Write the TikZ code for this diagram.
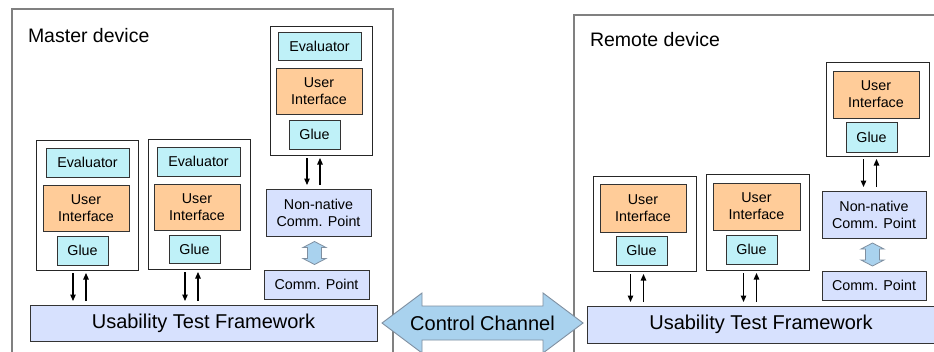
\documentclass[tikz,border=0pt]{standalone}
\usepackage{fontspec}
\setmainfont{Liberation Sans}
\usetikzlibrary{calc,arrows.meta}

\definecolor{evalcyan}{HTML}{BFF1F8}
\definecolor{uiorange}{HTML}{FFCC99}
\definecolor{commblue}{HTML}{D7E1FE}
\definecolor{chanblue}{HTML}{A9D2EE}
\definecolor{chanedge}{HTML}{7F8FA0}
\definecolor{framegray}{HTML}{808080}
\definecolor{edgedark}{HTML}{333333}

% arrows from a stack (#1) down to a target (#2) and back up
\newcommand\stacklinks[2]{%
  \draw[flow] let \p1=(#1.south), \p2=(#2.north) in (\x1-14pt,\y1-3pt) -- (\x1-14pt,\y2+4pt);
  \draw[flow] let \p1=(#1.south), \p2=(#2.north) in (\x1-1pt,\y2+4pt) -- (\x1-1pt,\y1-3pt);}

% hollow two-headed block arrow centred on a coordinate
\newcommand\linkarrow[1]{%
  \draw[linkstyle, shift={(#1)}] (0,-11.5) -- (11.5,-5.5) -- (7,-5.5) -- (7,5.5) -- (11.5,5.5)
    -- (0,11.5) -- (-11.5,5.5) -- (-7,5.5) -- (-7,-5.5) -- (-11.5,-5.5) -- cycle;}

\begin{document}
\begin{tikzpicture}[x=1pt,y=-1pt,
  every node/.style={inner sep=0pt, outer sep=0pt},
  device/.style={draw=framegray, line width=1.2pt, fill=white, rectangle, anchor=north west},
  stackbox/.style={draw=black!85, line width=0.9pt, fill=white, rectangle},
  part/.style={draw=edgedark, line width=0.9pt, rectangle, align=center,
    text=black, font=\fontsize{14.3}{17}\selectfont},
  evalbox/.style={part, fill=evalcyan},
  uibox/.style={part, fill=uiorange},
  gluebox/.style={part, fill=evalcyan},
  commbox/.style={part, fill=commblue},
  framebox/.style={part, fill=commblue, font=\fontsize{20}{24}\selectfont},
  title/.style={anchor=base west, text=black, font=\fontsize{19.5}{23}\selectfont},
  flow/.style={line width=1.2pt, draw=black, -{Triangle[length=6.5pt,width=5.5pt]}},
  linkstyle/.style={draw=chanedge, line width=0.8pt, fill=chanblue},
  chanstyle/.style={draw=chanedge, line width=0.9pt, fill=chanblue}
]
\clip (0,0) rectangle (934,351);
\fill[white] (0,0) rectangle (934,351);

% ---------------- master device ----------------
\node[device, minimum width=381pt, minimum height=360pt] (mdev) at (12,9) {};
\node[title] (mtitle) at (28,42) {Master device};

\node[stackbox, minimum width=102pt, minimum height=129pt] (mS3) at (321,90.5) {};
\node[evalbox, minimum width=83pt, minimum height=28pt] (mE3) at (319.5,46) {Evaluator};
\node[uibox, minimum width=86pt, minimum height=46pt] (mU3) at (319,91) {User\\Interface};
\node[gluebox, minimum width=51pt, minimum height=29pt] (mG3) at (314.5,134.5) {Glue};

\node[commbox, minimum width=105pt, minimum height=47pt] (mNN) at (318.5,212.5) {Non-native\\Comm. Point};
\node[commbox, minimum width=105pt, minimum height=29pt] (mCP) at (316.5,284.5) {Comm. Point};

\node[stackbox, minimum width=102pt, minimum height=130pt] (mS1) at (87,205) {};
\node[evalbox, minimum width=83pt, minimum height=29pt] (mE1) at (87.5,162.5) {Evaluator};
\node[uibox, minimum width=86pt, minimum height=46pt] (mU1) at (86,208) {User\\Interface};
\node[gluebox, minimum width=51pt, minimum height=29pt] (mG1) at (82.5,250.5) {Glue};

\node[stackbox, minimum width=102pt, minimum height=130pt] (mS2) at (199,204) {};
\node[evalbox, minimum width=83pt, minimum height=29pt] (mE2) at (198.5,161.5) {Evaluator};
\node[uibox, minimum width=86pt, minimum height=46pt] (mU2) at (197,207) {User\\Interface};
\node[gluebox, minimum width=51pt, minimum height=28pt] (mG2) at (194.5,249) {Glue};

\node[framebox, minimum width=347pt, minimum height=36pt] (mUTF) at (203.5,323) {Usability Test Framework};

\stacklinks{mS1}{mUTF}
\stacklinks{mS2}{mUTF}
\stacklinks{mS3}{mNN}
\coordinate (mLink) at ($(mNN.south)!0.5!(mCP.north)+(-3,0)$);
\linkarrow{mLink}

% ---------------- remote device ----------------
\node[device, minimum width=380pt, minimum height=360pt] (rdev) at (574,15) {};
\node[title] (rtitle) at (590,46) {Remote device};

\node[stackbox, minimum width=103pt, minimum height=94pt] (rS3) at (877.5,109) {};
\node[uibox, minimum width=86pt, minimum height=47pt] (rU3) at (876,94.5) {User\\Interface};
\node[gluebox, minimum width=51pt, minimum height=30pt] (rG3) at (871.5,137) {Glue};

\node[commbox, minimum width=104pt, minimum height=47pt] (rNN) at (874,214.5) {Non-native\\Comm. Point};
\node[commbox, minimum width=104pt, minimum height=29pt] (rCP) at (874,285.5) {Comm. Point};

\node[stackbox, minimum width=103pt, minimum height=95pt] (rS1) at (644.5,223.5) {};
\node[uibox, minimum width=86pt, minimum height=48pt] (rU1) at (643,208) {User\\Interface};
\node[gluebox, minimum width=51pt, minimum height=29pt] (rG1) at (641.5,250.5) {Glue};

\node[stackbox, minimum width=103pt, minimum height=96pt] (rS2) at (757.5,222) {};
\node[uibox, minimum width=87pt, minimum height=47pt] (rU2) at (756.5,206.5) {User\\Interface};
\node[gluebox, minimum width=51pt, minimum height=29pt] (rG2) at (751.5,249.5) {Glue};

\node[framebox, minimum width=348pt, minimum height=37pt] (rUTF) at (761,324.5) {Usability Test Framework};

\stacklinks{rS1}{rUTF}
\stacklinks{rS2}{rUTF}
\stacklinks{rS3}{rNN}
\coordinate (rLink) at ($(rNN.south)!0.5!(rCP.north)+(-1.5,0)$);
\linkarrow{rLink}

% ---------------- control channel between the frameworks ----------------
\coordinate (ccL) at ([xshift=5pt]mUTF.east);
\coordinate (ccR) at ($(ccL)+(201,0)$);
\draw[chanstyle] (ccL) -- ++(40,-30) -- ++(0,13) -- ++(121,0) -- ++(0,-13) -- (ccR)
  -- ++(-40,30) -- ++(0,-13) -- ++(-121,0) -- ++(0,13) -- cycle;
\node[font=\fontsize{20}{24}\selectfont, text=black] (cc) at ($(ccL)!0.5!(ccR)$) {Control Channel};
\end{tikzpicture}
\end{document}
